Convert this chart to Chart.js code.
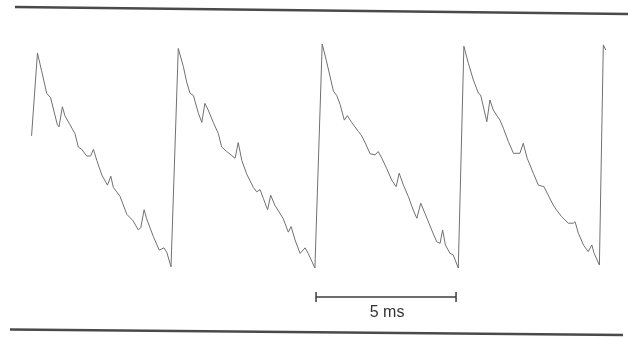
<!DOCTYPE html>
<html>
<head>
<meta charset="utf-8">
<script src="https://cdn.jsdelivr.net/npm/chart.js@4/dist/chart.umd.min.js"></script>
<style>
  html, body { margin: 0; padding: 0; background: #fff; }
  canvas { display: block; }
</style>
</head>
<body>
<canvas id="trace" width="633" height="338"></canvas>
<script>
// trace: time in ms, amplitude in % of peak
const traceTime = [
  0.02, 0.23, 0.38, 0.56, 0.70, 0.94, 1.00, 1.12, 1.21, 1.39, 1.57, 1.69, 1.81, 1.99, 2.13, 2.23, 2.35, 2.53, 2.73, 2.85,
  2.94, 3.18, 3.42, 3.65, 3.83, 3.92, 4.04, 4.13, 4.37, 4.58, 4.75, 4.85, 5.00,
  5.26, 5.44, 5.56, 5.68, 5.80, 5.98, 6.10, 6.21, 6.33, 6.51, 6.69, 6.81, 6.99, 7.29, 7.40, 7.53, 7.70, 7.94, 8.06,
  8.18, 8.30, 8.45, 8.56, 8.71, 9.01, 9.19, 9.29, 9.43, 9.61, 9.79, 9.90, 10.14,
  10.40, 10.56, 10.80, 10.92, 11.04, 11.19, 11.30, 11.45, 11.69, 11.81, 11.93, 12.11, 12.29, 12.40, 12.53, 12.70,
  12.88, 13.04, 13.15, 13.30, 13.48, 13.65, 13.78, 13.92, 14.07, 14.31, 14.49, 14.61, 14.70, 14.80, 14.96, 15.08, 15.26,
  15.46, 15.62, 15.80, 15.98, 16.06, 16.28, 16.39, 16.51, 16.75, 16.87, 17.05, 17.23, 17.46, 17.58, 17.72, 17.94,
  18.12, 18.32, 18.44, 18.65, 18.77, 18.95, 19.19, 19.37, 19.43, 19.55, 19.73, 19.90, 20.03, 20.11, 20.30, 20.44, 20.53
];
const traceAmp = [
  59, 96, 88, 78, 76, 64, 63, 72, 68, 64, 60, 54, 53, 50, 50, 53, 48, 41.5, 37, 41,
  36, 32, 24, 21, 17, 18, 26, 22, 14, 8, 9, 7, 0.5,
  98, 90, 83, 78, 77, 69, 65, 73.5, 70.5, 65, 60, 54, 52, 49, 56, 48, 42, 36, 34,
  35, 31, 26, 32.5, 28, 22, 16, 18.5, 12.5, 6.5, 9, 6.5, 0,
  100, 92, 79, 77, 73, 66, 68, 65, 61, 59, 56, 51, 50.5, 52, 49, 44.5,
  39.3, 36.3, 42.3, 37, 31.8, 25.9, 22.2, 28.9, 24.4, 17, 11.7, 11, 17, 10.3, 6.6, 5.8, 0,
  99, 91.4, 83.9, 78, 77.2, 65.3, 75, 70.5, 66, 62.4, 56.4, 51.2, 51.2, 55.7, 49, 42.3,
  37, 36.3, 33.3, 28.1, 25.9, 22.9, 20, 20, 20.7, 15.5, 10.3, 7.3, 10.3, 6.6, 1.3, 99.6, 97.3
];

// calibration bar
const scaleBarStart = 10.18;
const scaleBarLength = 5;
const scaleBarLabel = '5 ms';

const points = traceTime.map((t, i) => ({ x: t, y: traceAmp[i] }));

// page decoration: the two rules and the calibration bar with its label
const decor = {
    id: 'decor',
    afterDraw(chart) {
        const c = chart.ctx;
        const sx = chart.scales.x, sy = chart.scales.y;
        c.save();
        c.lineCap = 'butt';
        c.strokeStyle = '#4a4a4a';
        c.lineWidth = 2.5;
        c.beginPath();
        c.moveTo(15, 7); c.lineTo(628, 14);
        c.moveTo(10, 329.5); c.lineTo(623, 335);
        c.stroke();

        const x0 = sx.getPixelForValue(scaleBarStart);
        const x1 = sx.getPixelForValue(scaleBarStart + scaleBarLength);
        const yb = sy.getPixelForValue(-13);
        c.strokeStyle = '#3c3c3c';
        c.lineWidth = 1.5;
        c.beginPath();
        c.moveTo(x0, yb); c.lineTo(x1, yb);
        c.moveTo(x0, yb - 5); c.lineTo(x0, yb + 5);
        c.moveTo(x1, yb - 5); c.lineTo(x1, yb + 5);
        c.stroke();

        c.fillStyle = '#333';
        c.font = '16px "Liberation Sans", Arial, sans-serif';
        c.textAlign = 'center';
        c.textBaseline = 'middle';
        c.fillText(scaleBarLabel, (x0 + x1) / 2 + 1, yb + 15);
        c.restore();
    }
};

new Chart(document.getElementById('trace'), {
    type: 'scatter',
    data: {
        datasets: [{
            data: points,
            showLine: true,
            borderColor: '#707070',
            borderWidth: 1,
            pointRadius: 0,
            tension: 0
        }]
    },
    options: {
        responsive: false,
        animation: false,
        layout: { padding: 0 },
        plugins: { legend: { display: false }, tooltip: { enabled: false } },
        scales: {
            x: { type: 'linear', display: false, min: -31 / 28, max: 602 / 28 },
            y: { type: 'linear', display: false, min: -70 / 2.24, max: 268 / 2.24 }
        }
    },
    plugins: [decor]
});
</script>
</body>
</html>
